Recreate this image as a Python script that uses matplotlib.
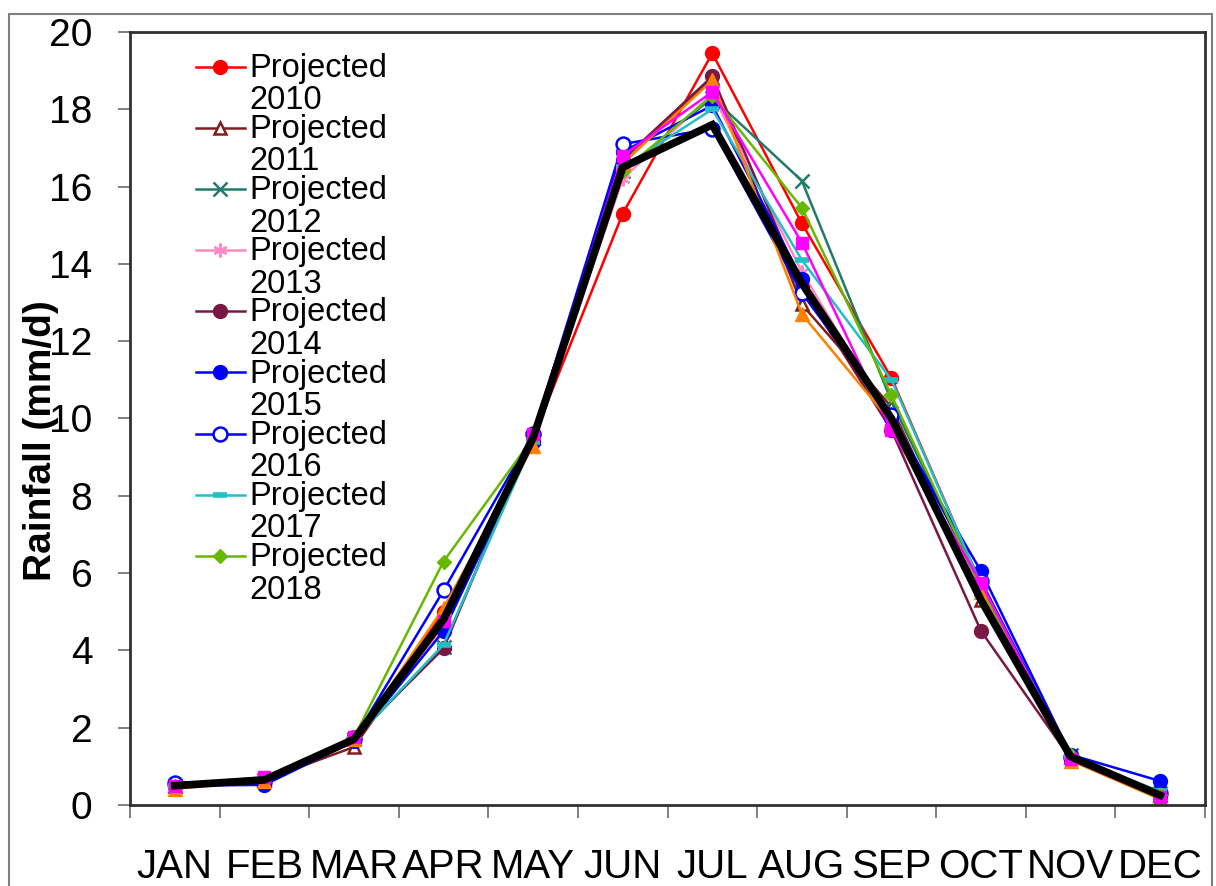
import numpy as np
import matplotlib
matplotlib.use('agg')
import matplotlib.pyplot as plt
import matplotlib.patches as patches
from matplotlib.legend_handler import HandlerLine2D

plt.rcParams['font.family'] = ['Liberation Sans', 'DejaVu Sans']

# monthly rainfall (mm/d)
months = ['JAN', 'FEB', 'MAR', 'APR', 'MAY', 'JUN', 'JUL', 'AUG', 'SEP', 'OCT', 'NOV', 'DEC']
p2010 = [0.50, 0.65, 1.70, 5.00, 9.50, 15.30, 19.45, 15.05, 11.05, 5.70, 1.25, 0.25]
p2011 = [0.50, 0.65, 1.50, 4.80, 9.50, 16.60, 18.80, 12.95, 10.30, 5.30, 1.25, 0.25]
p2012 = [0.50, 0.65, 1.70, 4.10, 9.50, 16.40, 18.30, 16.15, 10.45, 5.60, 1.30, 0.30]
p2013 = [0.55, 0.70, 1.75, 4.60, 9.50, 16.20, 18.40, 13.80, 9.90, 5.50, 1.20, 0.25]
p2014 = [0.50, 0.65, 1.75, 4.05, 9.60, 16.70, 18.85, 13.40, 9.70, 4.50, 1.20, 0.25]
p2015 = [0.50, 0.52, 1.65, 4.50, 9.40, 16.90, 18.10, 13.60, 10.00, 6.05, 1.30, 0.62]
p2016 = [0.58, 0.60, 1.70, 5.55, 9.60, 17.10, 17.50, 13.25, 10.10, 5.80, 1.25, 0.30]
p2017 = [0.50, 0.62, 1.70, 4.15, 9.40, 16.50, 18.00, 14.10, 11.00, 5.70, 1.25, 0.35]
p2018 = [0.50, 0.65, 1.75, 6.30, 9.50, 16.40, 18.35, 15.45, 10.60, 5.60, 1.30, 0.25]
p2019 = [0.42, 0.62, 1.70, 5.10, 9.30, 16.60, 18.75, 12.70, 9.90, 5.50, 1.15, 0.15]
p2020 = [0.50, 0.72, 1.75, 4.75, 9.60, 16.80, 18.45, 14.55, 9.70, 5.75, 1.20, 0.20]
mean = [0.50, 0.65, 1.70, 4.80, 9.50, 16.50, 17.60, 13.50, 10.00, 5.30, 1.25, 0.25]


class FirstLineHandler(HandlerLine2D):
    # put the legend marker next to the first line of a two-line label
    def create_artists(self, *args, **kwargs):
        arts = super().create_artists(*args, **kwargs)
        for a in arts:
            a.set_ydata(np.asarray(a.get_ydata()) + 13.3)
        return arts


fig = plt.figure(figsize=(12.16, 8.86), dpi=100)
ax = fig.add_axes([130 / 1216, 1 - 805 / 886, 1075 / 1216, 773 / 886])

x = np.arange(len(months))
lw = 1.8
lines = []
lines += ax.plot(x, p2010, color='#ff0000', marker='o', ms=10, lw=lw, label='Projected\n2010')
lines += ax.plot(x, p2011, color='#7f1f1f', marker='^', ms=8, mfc='white', mew=1.8, lw=lw, label='Projected\n2011')
lines += ax.plot(x, p2012, color='#237a6a', marker='x', ms=10, mew=1.8, lw=lw, label='Projected\n2012')
lines += ax.plot(x, p2013, color='#ff88c4', marker=(6, 2, 0), ms=10, mew=1.6, lw=lw, label='Projected\n2013')
lines += ax.plot(x, p2014, color='#7a1844', marker='o', ms=10, lw=lw, label='Projected\n2014')
lines += ax.plot(x, p2015, color='#0000ff', marker='o', ms=10, lw=lw, label='Projected\n2015')
lines += ax.plot(x, p2016, color='#0000ff', marker='o', ms=10, mfc='white', mew=1.8, lw=lw, label='Projected\n2016')
lines += ax.plot(x, p2017, color='#22c0c4', marker='_', ms=10, mew=4, lw=lw, label='Projected\n2017')
lines += ax.plot(x, p2018, color='#66b800', marker='D', ms=7, lw=lw, label='Projected\n2018')
ax.plot(x, p2019, color='#ff8000', marker='^', ms=10, lw=lw, label='Projected\n2019')
ax.plot(x, p2020, color='#ff00ff', marker='s', ms=9, lw=lw, label='Projected\n2020')
ax.plot(x, mean, color='black', lw=5.5, solid_joinstyle='miter', label='Mean')

ax.set_xlim(-0.5, 11.5)
ax.set_ylim(0, 20)
ax.set_yticks(np.arange(0, 21, 2))
ax.set_xticks(np.arange(-0.5, 12, 1))
ax.set_xticklabels([])
ax.set_xticks(x, minor=True)
ax.set_xticklabels(months, minor=True, fontsize=29)
ax.tick_params(axis='x', which='minor', length=0, pad=31)
ax.tick_params(axis='x', which='major', length=9, width=1.4, color='#808080', direction='out')
ax.tick_params(axis='y', length=9, width=1.4, color='#808080', direction='out', pad=18, labelsize=28)
for s in ax.spines.values():
    s.set_linewidth(2.0)
    s.set_color('#303030')

fig.text(0.034, 1 - 441 / 886, 'Rainfall (mm/d)', rotation=90, fontsize=28,
         fontweight='bold', ha='center', va='center')

leg = ax.legend(handles=lines, loc='upper left', bbox_to_anchor=(0.061, 0.973),
                frameon=False, fontsize=23.5, borderpad=0, borderaxespad=0,
                handlelength=1.5, handletextpad=0.15, labelspacing=-0.07,
                handler_map={matplotlib.lines.Line2D: FirstLineHandler()})
for t in leg.get_texts():
    t.set_linespacing(1.06)

# thin grey frame round the whole picture
fig.patches.append(patches.Rectangle((9 / 1216, -0.02), 1203 / 1216, 1.012 - 7 / 886,
                                     transform=fig.transFigure, fill=False,
                                     edgecolor='#7f7f7f', lw=1.5))

fig.savefig('out.png', dpi=100)
